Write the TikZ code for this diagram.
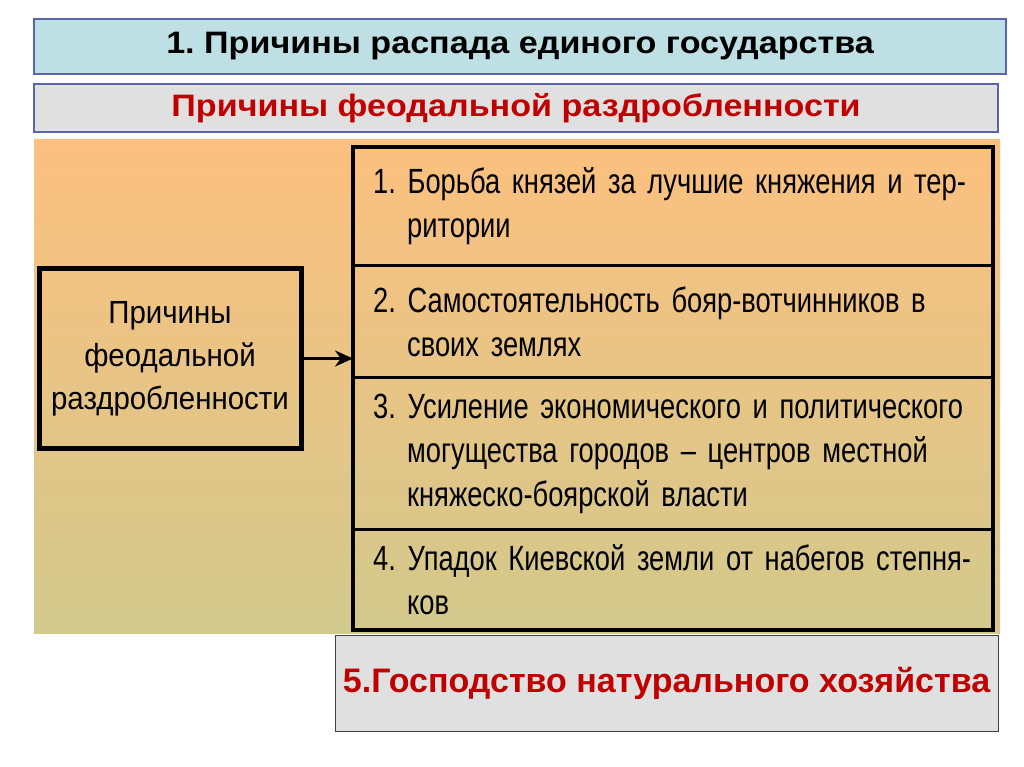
\documentclass[tikz,border=0pt]{standalone}
\usepackage{fontspec}
\setmainfont{Liberation Sans}
\newfontfamily\narrowfont[FakeStretch=0.78]{Liberation Sans}
\newfontfamily\boxfont[FakeStretch=0.92]{Liberation Sans}
\newfontfamily\widefont[FakeStretch=1.1]{Liberation Sans}
\usetikzlibrary{positioning, arrows.meta, calc}

\definecolor{titlecyan}{HTML}{BEDFE3}
\definecolor{framelilac}{HTML}{5A64A8}
\definecolor{panelgray}{HTML}{E0E0E0}
\definecolor{headred}{HTML}{C00000}
\definecolor{orangetop}{HTML}{FCC07F}
\definecolor{olivebottom}{HTML}{D2C98C}

\tikzset{
  headbox/.style={draw=framelilac, line width=1.2pt, font=\widefont\bfseries\fontsize{31}{34}\selectfont},
  rowbox/.style={minimum width=640, text width=600, inner xsep=20pt, align=left,
    font=\narrowfont\fontsize{35}{44}\selectfont},
}

\begin{document}
\frenchspacing
\begin{tikzpicture}[x=1pt, y=-1pt]
  \useasboundingbox (0,0) rectangle (1024,767);
  \fill[white] (0,0) rectangle (1024,767);

  % headings
  \node[headbox, fill=titlecyan, minimum width=972, minimum height=55] (title) at (520,46.5)
    {1. Причины распада единого государства};
  \node[headbox, fill=panelgray, text=headred, minimum width=964, minimum height=48] (sub) at (516,108)
    {Причины феодальной раздробленности};

  % orange picture
  \shade[top color=orangetop, bottom color=olivebottom] (34,140) rectangle (1000,633);

  % left box
  \node[draw, line width=5pt, minimum width=262, minimum height=180, align=center,
    font=\boxfont\fontsize{32}{43}\selectfont] (causes) at (170,358.5)
    {Причины\\феодальной\\раздробленности};

  % right column
  \node[rowbox, minimum height=118, anchor=north west] (r1) at (353,147)
    {1. Борьба князей за лучшие княжения и тер-\\\hspace*{34pt}ритории};
  \node[rowbox, minimum height=112, anchor=north west] (r2) at (r1.south west)
    {2. Самостоятельность бояр-вотчинников в\\\hspace*{34pt}своих землях};
  \node[rowbox, minimum height=151, anchor=north west] (r3) at (r2.south west)
    {3. Усиление экономического и политического\\\hspace*{34pt}могущества городов – центров местной\\\hspace*{34pt}княжеско-боярской власти};
  \node[rowbox, minimum height=100, anchor=north west] (r4) at (r3.south west)
    {4. Упадок Киевской земли от набегов степня-\\\hspace*{34pt}ков};
  \draw[line width=4pt] (r1.north west) rectangle (r4.south east);
  \draw[line width=3pt] (r1.south west) -- (r1.south east);
  \draw[line width=3pt] (r2.south west) -- (r2.south east);
  \draw[line width=3pt] (r3.south west) -- (r3.south east);

  \draw[line width=3pt, -{Stealth[length=18pt, width=16pt]}] (causes.east) -- (causes.east -| r1.west);

  % bottom box
  \node[draw=black!75, line width=1pt, fill=panelgray, text=headred, minimum width=663, minimum height=96,
    font=\bfseries\fontsize{34}{38}\selectfont] (natural) at (666.5,683)
    {5.Господство натурального хозяйства};
\end{tikzpicture}
\end{document}
